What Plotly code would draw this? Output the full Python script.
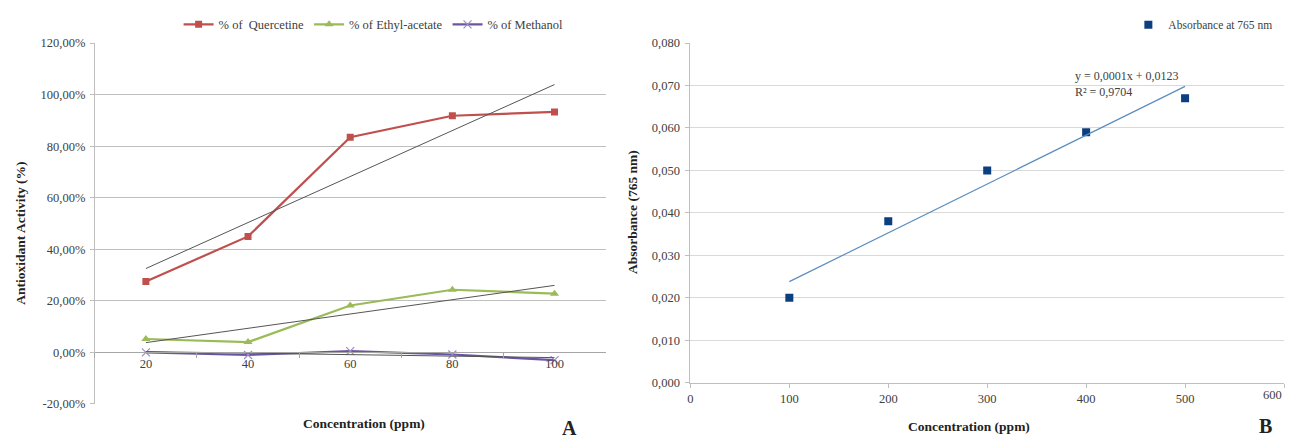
import numpy as np
import plotly.graph_objects as go

# ---------------- data ----------------
conc_a = ["20", "40", "60", "80", "100"]
quercetine = [27.5, 45.0, 83.5, 91.8, 93.3]
ethyl_acetate = [5.2, 4.0, 18.2, 24.3, 22.8]
methanol = [0.0, -1.0, 0.5, -0.8, -3.0]

conc_b = [100, 200, 300, 400, 500]
absorbance = [0.020, 0.038, 0.050, 0.059, 0.067]

left_yticks = [-20, 0, 20, 40, 60, 80, 100, 120]
right_yticks = [0.0, 0.01, 0.02, 0.03, 0.04, 0.05, 0.06, 0.07, 0.08]
right_xticks = [0, 100, 200, 300, 400, 500, 600]

left_yticktext = [f"{v:.2f}".replace(".", ",") + "%" for v in left_yticks]
right_yticktext = [f"{v:.3f}".replace(".", ",") for v in right_yticks]
# the last x label sits on the page edge; it is drawn as an annotation below
right_xticktext = [str(v) for v in right_xticks[:-1]] + [""]

OFF = 8  # default page body margin
W, H = 1294 - 2 * OFF, 448 - 2 * OFF
FONT = "Liberation Serif, Times New Roman, serif"

def px_x(p):
    return (p - OFF) / W

def px_y(p):
    return 1 - (p - OFF) / H

# domains (paper)
ax_l = [px_x(92), px_x(604)]
ay_l = [px_y(410), px_y(37)]
ax_r = [px_x(689), px_x(1284)]
ay_r = [px_y(388), px_y(37)]

fig = go.Figure()

# ---- left chart series ----
fig.add_trace(go.Scatter(
    x=conc_a, y=quercetine, name="% of  Quercetine", mode="lines+markers",
    line=dict(color="#C0504D", width=2.2),
    marker=dict(symbol="square", size=7, color="#C0504D"),
    xaxis="x", yaxis="y", legend="legend"))
fig.add_trace(go.Scatter(
    x=conc_a, y=ethyl_acetate, name="% of Ethyl-acetate", mode="lines+markers",
    line=dict(color="#9BBB59", width=2.2),
    marker=dict(symbol="triangle-up", size=8, color="#9BBB59"),
    xaxis="x", yaxis="y", legend="legend"))
fig.add_trace(go.Scatter(
    x=conc_a, y=methanol, name="% of Methanol", mode="lines+markers",
    line=dict(color="#6A56A0", width=2.2),
    marker=dict(symbol="x-thin", size=8, color="#9E8CC4", line=dict(width=1.2, color="#9E8CC4")),
    xaxis="x", yaxis="y", legend="legend"))

# linear trend lines (computed from the data)
idx = np.arange(1, len(conc_a) + 1)
for series in (quercetine, ethyl_acetate, methanol):
    m, b = np.polyfit(idx, series, 1)
    fig.add_trace(go.Scatter(
        x=conc_a, y=list(m * idx + b), mode="lines", showlegend=False,
        line=dict(color="#555555", width=1), hoverinfo="skip",
        xaxis="x", yaxis="y"))

# ---- right chart ----
fig.add_trace(go.Scatter(
    x=conc_b, y=absorbance, name="Absorbance at 765 nm", mode="markers",
    marker=dict(symbol="square", size=8, color="#0B3F80"),
    xaxis="x2", yaxis="y2", legend="legend2"))
m2, b2 = np.polyfit(conc_b, absorbance, 1)
xs = np.array([conc_b[0], conc_b[-1]])
fig.add_trace(go.Scatter(
    x=list(xs), y=list(m2 * xs + b2), mode="lines", showlegend=False,
    line=dict(color="#5B8DBE", width=1.2), hoverinfo="skip",
    xaxis="x2", yaxis="y2"))

tickfont = dict(family=FONT, size=12.5, color="#404040")
zero_pos = ay_l[0] + (0 - (-20)) / 140 * (ay_l[1] - ay_l[0])

fig.update_layout(
    width=W, height=H,
    margin=dict(l=0, r=0, t=0, b=0),
    paper_bgcolor="white", plot_bgcolor="white",
    font=dict(family=FONT, size=12, color="#404040"),
    xaxis=dict(domain=ax_l, type="category", anchor="free", position=zero_pos,
               showline=True, linecolor="#A6A6A6", linewidth=1,
               ticks="outside", tickson="boundaries", ticklen=5, tickcolor="#A6A6A6",
               showgrid=False, zeroline=False, tickfont=tickfont,
               range=[-0.5, 4.5]),
    yaxis=dict(domain=ay_l, anchor="x", range=[-20, 120], tickvals=left_yticks,
               ticktext=left_yticktext, showline=True, linecolor="#BFBFBF",
               showgrid=True, gridcolor="#BFBFBF", gridwidth=1, zeroline=False,
               tickfont=tickfont, ticks="outside", ticklen=4, tickcolor="#BFBFBF",
               ticklabelstandoff=2),
    xaxis2=dict(domain=ax_r, anchor="y2", range=[0, 600], tickvals=right_xticks,
                ticktext=right_xticktext,
                showline=True, linecolor="#BFBFBF", ticks="outside", ticklen=4,
                tickcolor="#BFBFBF", showgrid=False, zeroline=False, tickfont=tickfont),
    yaxis2=dict(domain=ay_r, anchor="x2", range=[0, 0.08], tickvals=right_yticks,
                ticktext=right_yticktext, showline=True, linecolor="#BFBFBF",
                ticks="outside", ticklen=4, tickcolor="#BFBFBF",
                showgrid=True, gridcolor="#D9D9D9", zeroline=False, tickfont=tickfont,
                ticklabelstandoff=3),
    legend=dict(orientation="h", x=px_x(176), y=px_y(18), xanchor="left", yanchor="middle",
                font=dict(family=FONT, size=12.5, color="#404040"),
                itemwidth=30, tracegroupgap=0, bgcolor="rgba(0,0,0,0)"),
    legend2=dict(orientation="h", x=px_x(1128), y=px_y(18), xanchor="left", yanchor="middle",
                 font=dict(family=FONT, size=11.5, color="#404040"),
                 itemwidth=30, bgcolor="rgba(0,0,0,0)"),
    showlegend=True,
)

def label(text, x, y, size, color="#222222", angle=0):
    return dict(text=text, x=px_x(x), y=px_y(y), xref="paper", yref="paper",
                showarrow=False, xanchor="center", yanchor="middle", textangle=angle,
                font=dict(family=FONT, size=size, color=color))

ann = [
    label("<b>Concentration (ppm)</b>", 362, 430, 13.5),
    label("<b>Concentration (ppm)</b>", 968, 433, 13.5),
    label("<b>Antioxidant Activity (%)</b>", 18, 233, 13.5, angle=-90),
    label("<b>Absorbance (765 nm)</b>", 631, 212, 13.5, angle=-90),
    label("<b>A</b>", 568, 435, 20),
    label("<b>B</b>", 1265, 433, 20),
    dict(text="y = 0,0001x + 0,0123<br>R² = 0,9704", x=px_x(1072), y=px_y(79),
         xref="paper", yref="paper", showarrow=False, xanchor="left", yanchor="middle",
         align="left", font=dict(family=FONT, size=12, color="#404040")),
    dict(text=str(right_xticks[-1]), x=right_xticks[-1], xref="x2", y=px_y(401), yref="paper",
         showarrow=False, xanchor="right", yanchor="middle",
         font=dict(family=FONT, size=12.5, color="#404040")),
]
fig.update_layout(annotations=ann)

fig.write_html("out.html")
